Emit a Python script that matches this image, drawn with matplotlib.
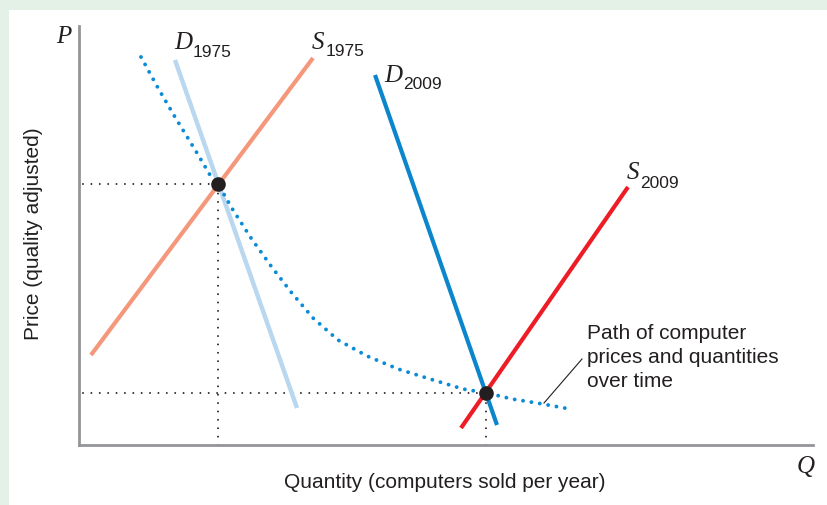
import matplotlib.pyplot as plt
from matplotlib.patches import Rectangle

W, H = 828, 505

# curves, in axis units (origin at the axis corner)
d1975_q = [96, 218]
d1975_p = [384.5, 36.5]
s1975_q = [12, 234]
s1975_p = [89.5, 386.5]
d2009_q = [296, 418]
d2009_p = [369.5, 19.5]
s2009_q = [382, 549]
s2009_p = [16.5, 257.5]

# path of prices and quantities over time
path_q = [62, 79, 96, 118, 131, 139, 154, 172, 192, 212, 234, 259, 288,
          319, 351, 384, 408, 433, 458, 491]
path_p = [387.5, 356.5, 327.5, 291.5, 269.5, 260.5, 234.5, 206.5, 178.5,
          152.5, 126.5, 104.5, 88.5, 75.5, 65.5, 55.5, 51.5, 45.5, 41.5, 35.5]

# equilibria (1975, 2009)
eq_q = [139, 407]
eq_p = [260.5, 51.5]

fig = plt.figure(figsize=(W / 100, H / 100), dpi=100, facecolor="#e3f1e7")
fig.patches.append(Rectangle((9 / W, 0), 1, 1 - 10 / H, transform=fig.transFigure,
                             facecolor="white", edgecolor="none", zorder=-1))

x0, x1, y0, y1 = 79, 813, 26, 444.5
ax = fig.add_axes([x0 / W, 1 - y1 / H, (x1 - x0) / W, (y1 - y0) / H])
ax.set_xlim(0, x1 - x0)
ax.set_ylim(0, y1 - y0)
ax.patch.set_alpha(0)
for s in ["top", "right"]:
    ax.spines[s].set_visible(False)
for s in ["left", "bottom"]:
    ax.spines[s].set_color("#939598")
    ax.spines[s].set_linewidth(2)
ax.set_xticks([])
ax.set_yticks([])

# dotted guides to the axes
dk = "#231f20"
guide = dict(color=dk, lw=1.4, ls=(0, (0.01, 4.3)), dash_capstyle="round", zorder=2)
for q, p in zip(eq_q, eq_p):
    ax.plot([4, q], [p, p], **guide)
    ax.plot([q, q], [0, p], **guide)

ax.plot(d1975_q, d1975_p, color="#b9d7ef", lw=3.2, solid_capstyle="butt", zorder=3)
ax.plot(s1975_q, s1975_p, color="#f5977a", lw=3, solid_capstyle="butt", zorder=3)
ax.plot(d2009_q, d2009_p, color="#0b86cc", lw=3, solid_capstyle="butt", zorder=3)
ax.plot(s2009_q, s2009_p, color="#ee1c25", lw=3, solid_capstyle="butt", zorder=3)
ax.plot(path_q, path_p, color="#0a8bd6", lw=2.8, ls=(0, (0.01, 2.17)),
        dash_capstyle="round", zorder=4)
ax.plot(eq_q, eq_p, "o", color=dk, ms=9.5, zorder=5)

# curve labels: italic serif letter + sans subscript
serif = dict(family="Liberation Serif", style="italic", size=18, color=dk)
sans = dict(family="Liberation Sans", size=12.5, color=dk)
labels = [("D", "1975", 113, 395.5, 387.5),
          ("S", "1975", 245.5, 395.5, 388.5),
          ("D", "2009", 323, 362.5, 355.5),
          ("S", "2009", 560.5, 265.5, 256.5)]
for letter, year, q, p, psub in labels:
    ax.text(q, p, letter, ha="right", va="baseline", **serif)
    ax.text(q + 1, psub, year, ha="left", va="baseline", **sans)

ax.text(508, 57.5, "Path of computer\nprices and quantities\nover time",
        ha="left", va="baseline", family="Liberation Sans", size=15,
        color=dk, linespacing=1.32)
ax.plot([465, 503], [41.5, 85.5], color=dk, lw=0.8, zorder=4)

# axis titles
fig.text(64 / W, 1 - 43 / H, "P", ha="center", va="baseline", **serif)
fig.text(806 / W, 1 - 473 / H, "Q", ha="center", va="baseline", **serif)
fig.text(445 / W, 1 - 488 / H, "Quantity (computers sold per year)", ha="center",
         va="baseline", family="Liberation Sans", size=15, color=dk)
fig.text(34 / W, 1 - 234 / H, "Price (quality adjusted)", ha="center", va="center",
         rotation=90, family="Liberation Sans", size=15, color=dk)

fig.savefig("out.png", dpi=100, facecolor=fig.get_facecolor())
